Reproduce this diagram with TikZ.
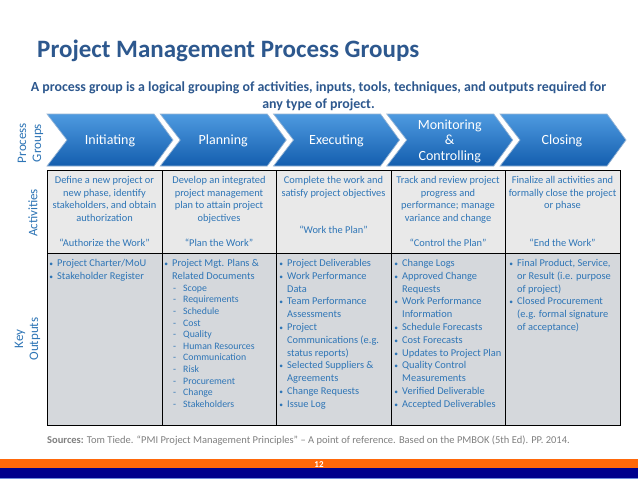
\documentclass[tikz,border=0pt]{standalone}
\usepackage{fontspec}
\setmainfont{Carlito}
\definecolor{ttl}{RGB}{45,88,142}
\definecolor{tblue}{RGB}{46,117,182}
\definecolor{actbg}{RGB}{233,233,233}
\definecolor{outbg}{RGB}{213,216,220}
\definecolor{srcgray}{RGB}{128,128,128}
\definecolor{orng}{RGB}{255,104,10}
\definecolor{navyb}{RGB}{0,0,140}
\definecolor{lightline}{RGB}{110,140,220}
\definecolor{chevtop}{RGB}{78,154,224}
\definecolor{chevmid}{RGB}{30,115,200}
\definecolor{chevbot}{RGB}{20,94,174}
\definecolor{chevedge}{RGB}{150,180,212}
\newcommand\pmkb{{\fontsize{7.5}{8}\selectfont\textbullet}\hspace{4pt}}
\newcommand\pmkn{}
\newcommand\pmkd{-\hspace{7pt}}
\newcommand\mychev[1]{\path[chev] (#1,114) -- ++(107,0) -- ++(19,26) -- ++(-19,26) -- ++(-107,0) -- ++(20,-26) -- cycle;}
\newcommand\outcol[5]{\foreach \mk/\t [count=\k from 0] in {#5} {\node[outtxt] (#1-\k) at (#2,{#3+#4*\k}) {\llap{\csname pmk\mk\endcsname}\t};}}
\newcommand\actcol[5]{\foreach \t [count=\k from 0] in {#5} {\node[acttxt] (#1-\k) at (#2,{#3+#4*\k}) {\t};}}
\begin{document}
\begin{tikzpicture}[x=1pt,y=-1pt,
  chev/.style={draw=chevedge, line width=0.7pt, top color=chevtop, middle color=chevmid, bottom color=chevbot},
  chevtxt/.style={text=white, font=\fontsize{14}{15.5}\selectfont, inner sep=0pt, anchor=base},
  acttxt/.style={text=tblue, font=\fontsize{10.4}{12}\selectfont, inner sep=0pt, anchor=base},
  outtxt/.style={text=tblue, font=\fontsize{10.4}{12}\selectfont, inner sep=0pt, anchor=base west},
  subtxt/.style={text=tblue, font=\fontsize{9.8}{11}\selectfont, inner sep=0pt, anchor=base west},
  sidelbl/.style={text=tblue, font=\fontsize{13}{15}\selectfont, align=center, rotate=90, inner sep=0pt},
  cellline/.style={draw=black, line width=1pt}]
\useasboundingbox (0,0) rectangle (638,479);
\fill[white] (0,0) rectangle (638,479);
% title
\node[anchor=base west, inner sep=0pt, text=ttl, font=\bfseries\fontsize{25}{29}\selectfont] (title) at (37,57.5) {Project Management Process Groups};
\node[anchor=base, inner sep=0pt, text=ttl, font=\bfseries\fontsize{13.9}{15}\selectfont] (sub1) at (318.5,91) {A process group is a logical grouping of activities, inputs, tools, techniques, and outputs required for};
\node[anchor=base, inner sep=0pt, text=ttl, font=\bfseries\fontsize{13.9}{15}\selectfont] (sub2) at (318.5,108.5) {any type of project.};
% side labels
\node[sidelbl] (lpg) at (30.5,143) {Process\\Groups};
\node[sidelbl] (lact) at (33,213) {Activities};
\node[sidelbl] (lout) at (27.5,339) {Key\\Outputs};
% chevrons
\mychev{47}
\mychev{160.25}
\mychev{273.5}
\mychev{386.75}
\mychev{500}
\node[chevtxt] (c1) at (110,144.5) {Initiating};
\node[chevtxt] (c2) at (223.25,144.5) {Planning};
\node[chevtxt] (c3) at (336.5,144.5) {Executing};
\node[chevtxt] (c4a) at (449.75,129) {Monitoring};
\node[chevtxt] (c4b) at (449.75,144.5) {\&};
\node[chevtxt] (c4c) at (449.75,160) {Controlling};
\node[chevtxt] (c5) at (562,144.5) {Closing};
% table cells
\foreach \xa/\xb in {47/162,162/276,276/391,391/505,505/620} {
  \draw[cellline, fill=actbg] (\xa,170) rectangle (\xb,253);
  \draw[cellline, fill=outbg] (\xa,253) rectangle (\xb,425);
}
% activities
\actcol{a1}{104.5}{183.4}{12.7}{Define a new project or, {new phase, identify}, {stakeholders, and obtain}, authorization}
\node[acttxt] (q1) at (104.5,246.4) {“Authorize the Work”};
\actcol{a2}{219}{183.4}{12.7}{Develop an integrated, project management, plan to attain project, objectives}
\node[acttxt] (q2) at (219,246.4) {“Plan the Work”};
\actcol{a3}{333.5}{183.4}{12.7}{Complete the work and, satisfy project objectives}
\node[acttxt] (q3) at (333.5,233.4) {“Work the Plan”};
\actcol{a4}{448}{183.4}{12.7}{Track and review project, progress and, {performance; manage}, variance and change}
\node[acttxt] (q4) at (448,246.4) {“Control the Plan”};
\actcol{a5}{562.5}{183.4}{12.7}{Finalize all activities and, formally close the project, or phase}
\node[acttxt] (q5) at (562.5,246.4) {“End the Work”};
% outputs
\outcol{o1}{57}{266.4}{12.8}{b/{Project Charter/MoU}, b/Stakeholder Register}
\outcol{o2}{172}{266.4}{12.8}{b/Project Mgt. Plans \&, n/Related Documents}
\foreach \t [count=\k from 0] in {Scope, Requirements, Schedule, Cost, Quality, Human Resources, Communication, Risk, Procurement, Change, Stakeholders} {
  \node[subtxt] (o2s-\k) at (183,{291.3+11.6*\k}) {\llap{\pmkd}\t};
}
\outcol{o3}{287}{266.4}{12.8}{b/Project Deliverables, b/Work Performance, n/Data, b/Team Performance, n/Assessments, b/Project, n/Communications (e.g., n/status reports), b/Selected Suppliers \&, n/Agreements, b/Change Requests, b/Issue Log}
\outcol{o4}{402}{266.4}{12.8}{b/Change Logs, b/Approved Change, n/Requests, b/Work Performance, n/Information, b/Schedule Forecasts, b/Cost Forecasts, b/Updates to Project Plan, b/Quality Control, n/Measurements, b/Verified Deliverable, b/Accepted Deliverables}
\outcol{o5}{517}{266.4}{12.8}{b/{Final Product, Service,}, n/{or Result (i.e. purpose}, n/of project), b/Closed Procurement, n/{(e.g. formal signature}, n/of acceptance)}
% sources
\node[anchor=base west, inner sep=0pt, text=srcgray, font=\fontsize{10.5}{12}\selectfont] (src) at (47,443) {\textbf{Sources:} Tom Tiede. “PMI Project Management Principles” – A point of reference. Based on the PMBOK (5th Ed). PP. 2014.};
% footer
\fill[orng] (0,459) rectangle (638,468);
\fill[navyb] (0,468) rectangle (638,477.5);
\fill[lightline] (0,477.5) rectangle (638,479);
\node[anchor=base, inner sep=0pt, text=white, font=\bfseries\fontsize{9}{10}\selectfont] (pg) at (319,467) {12};
\end{tikzpicture}
\end{document}
